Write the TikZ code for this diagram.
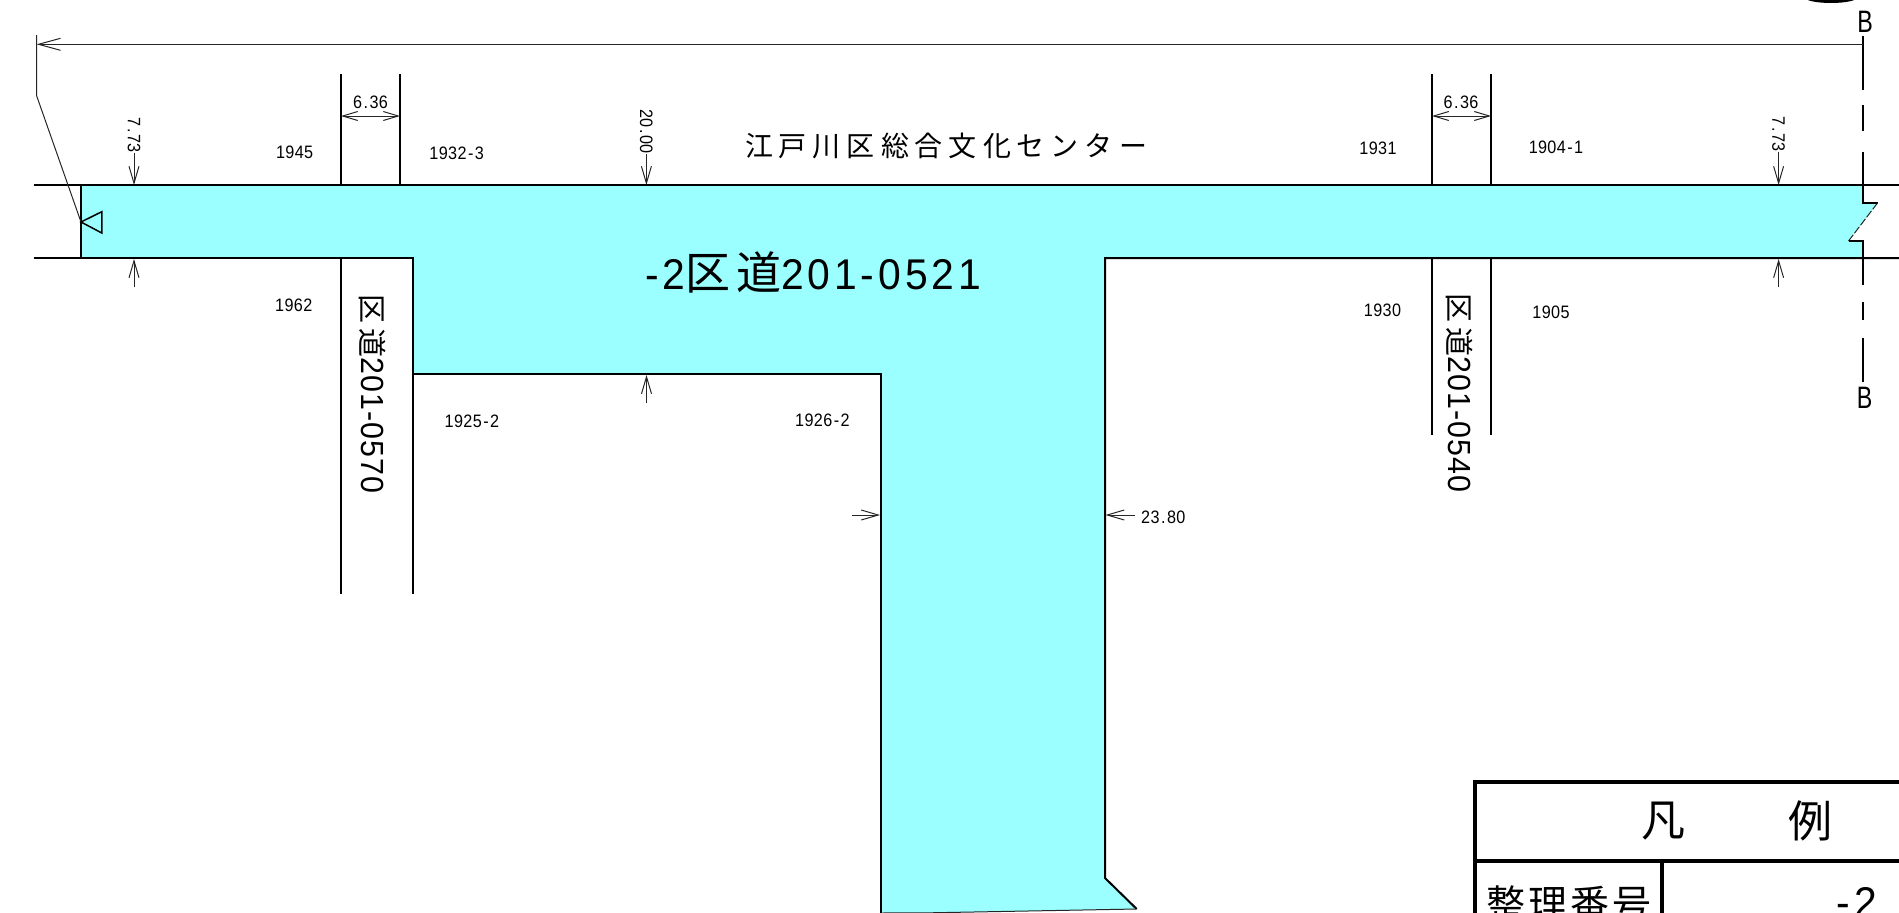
\documentclass[tikz,border=0pt]{standalone}
\usepackage{fontspec}
\setmainfont{Liberation Sans}
\newfontfamily\cjkf{Noto Sans CJK JP}
\newfontfamily\narf[FakeStretch=0.9,LetterSpace=2]{Liberation Sans}
\newfontfamily\narbf[FakeStretch=0.75]{Liberation Sans}
\newfontfamily\narwf[FakeStretch=0.95,LetterSpace=3]{Liberation Sans}
\newfontfamily\narxf[FakeStretch=0.95,LetterSpace=9]{Liberation Sans}
\usetikzlibrary{arrows.meta}
\definecolor{roadfill}{RGB}{156,255,255}
\newcommand{\hy}{\kern1.5pt-\kern1.5pt}
\newcommand{\dt}{\kern1.5pt.\kern1.5pt}
\tikzset{
  heavy/.style={draw=black,line width=2pt},
  thin line/.style={draw=black!85,line width=1pt},
  frame/.style={draw=black,line width=4.4pt},
  dimarrow/.style={thin line,-{Straight Barb[length=17pt,width=10pt]}},
  dimboth/.style={thin line,{Straight Barb[length=15pt,width=9pt]}-{Straight Barb[length=15pt,width=9pt]}},
  lot/.style={inner sep=0pt,font=\fontsize{18}{20}\narf},
  dimtext/.style={inner sep=0pt,font=\fontsize{18}{20}\narf},
  dimside/.style={inner sep=0pt,font=\fontsize{18}{20}\narf,rotate=-90},
  roadv/.style={inner sep=0pt,font=\fontsize{32}{34}\narwf,rotate=-90},
  legend/.style={inner sep=0pt,font=\fontsize{44}{46}\cjkf}
}
\begin{document}
\begin{tikzpicture}[x=1pt,y=-1pt]
\useasboundingbox (0,0) rectangle (1899,913);
\clip (0,0) rectangle (1899,913);
% road surface
\fill[roadfill] (81,185) -- (1863,185) -- (1863,203) -- (1877.5,203) -- (1848.5,241) -- (1863,241) -- (1863,258) -- (1105,258) -- (1105,878) -- (1136.7,909) -- (930,913) -- (881,913) -- (881,374) -- (413,374) -- (413,258) -- (81,258) -- cycle;
% road edges
\draw[heavy] (33.5,185) -- (1899,185);
\draw[heavy] (33.5,258) -- (413,258) -- (413,594);
\draw[heavy] (413,374) -- (881,374) -- (881,913);
\draw[heavy] (1899,258) -- (1105,258) -- (1105,878) -- (1136.7,909);
\draw[thin line] (881,913) -- (930,912.8) -- (1136.7,909);
\draw[heavy] (81,185) -- (81,258);
% side roads
\draw[heavy] (341,74) -- (341,185);
\draw[heavy] (400,74) -- (400,185);
\draw[heavy] (341,258) -- (341,594);
\draw[heavy] (1432,74) -- (1432,185);
\draw[heavy] (1491,74) -- (1491,185);
\draw[heavy] (1432,258) -- (1432,435);
\draw[heavy] (1491,258) -- (1491,435);
% section B line
\draw[heavy] (1863,36) -- (1863,90);
\draw[heavy] (1863,105) -- (1863,131);
\draw[heavy] (1863,152) -- (1863,203) -- (1877.5,203);
\draw[thin line,dashed,dash pattern=on 8pt off 2pt] (1877.5,203) -- (1848.5,241);
\draw[heavy] (1848.5,241) -- (1863,241) -- (1863,285);
\draw[heavy] (1863,302) -- (1863,320);
\draw[heavy] (1863,338) -- (1863,382);
\node[inner sep=0pt,font=\fontsize{31}{32}\narbf] (bt) at (1865,22) {B};
\node[inner sep=0pt,font=\fontsize{31}{32}\narbf] (bb) at (1864.5,398) {B};
\fill (1831,-3) ellipse [x radius=27,y radius=6];
% section arrow
\coordinate (secA) at (36.6,44.3);
\coordinate (secB) at (1863,44.3);
\coordinate (secC) at (36.6,35);
\coordinate (secD) at (36.6,95.7);
\coordinate (secE) at (81,222);
\draw[thin line,-{Straight Barb[length=22pt,width=12pt]}] (secB) -- (secA);
\draw[thin line] (secC) -- (secD) -- (secE);
\draw[draw=black,line width=1.5pt] (secE) -- (101.8,211.7) -- (101.8,233) -- cycle;
% dimensions
\coordinate (dl1) at (341,116); \coordinate (dl2) at (400,116);
\draw[dimboth] (dl1) -- (dl2);
\node[dimtext] (d636a) at (370.5,102) {6\dt 36};
\coordinate (dr1) at (1432,116); \coordinate (dr2) at (1491,116);
\draw[dimboth] (dr1) -- (dr2);
\node[dimtext] (d636b) at (1461,102.7) {6\dt 36};
\node[dimside] (d773a) at (134,135) {7\dt 73};
\coordinate (a1) at (134,185);
\draw[dimarrow] (d773a.east) -- (a1);
\coordinate (a2a) at (134,287); \coordinate (a2b) at (134,259);
\draw[dimarrow] (a2a) -- (a2b);
\node[dimside] (d2000) at (646.4,131.5) {20\dt 00};
\coordinate (a3) at (646.4,185);
\draw[dimarrow] (d2000.east) -- (a3);
\coordinate (a4a) at (646.5,402.7); \coordinate (a4b) at (646.5,375);
\draw[dimarrow] (a4a) -- (a4b);
\node[dimside] (d773b) at (1778.6,134) {7\dt 73};
\coordinate (a5) at (1778.6,185);
\draw[dimarrow] (d773b.east) -- (a5);
\coordinate (a6a) at (1778.6,287); \coordinate (a6b) at (1778.6,259);
\draw[dimarrow] (a6a) -- (a6b);
\coordinate (a7a) at (852,515); \coordinate (a7b) at (880,515);
\draw[dimarrow] (a7a) -- (a7b);
\node[dimtext,anchor=west] (d2380) at (1141,517) {23\dt 80};
\coordinate (a8) at (1105.5,515);
\draw[dimarrow] (d2380.west) ++(-6,-2) -- (a8);
% lot numbers
\node[lot] (l1945) at (294.6,152.7) {1945};
\node[lot] (l1932) at (456.7,153) {1932\hy 3};
\node[lot] (l1962) at (293.8,305.7) {1962};
\node[lot] (l1925) at (472,421.7) {1925\hy 2};
\node[lot] (l1926) at (822.5,420) {1926\hy 2};
\node[lot] (l1931) at (1378,148) {1931};
\node[lot] (l1904) at (1556,147) {1904\hy 1};
\node[lot] (l1930) at (1382.5,310) {1930};
\node[lot] (l1905) at (1551,312) {1905};
% names
\node[inner sep=0pt,font=\fontsize{28}{30}\cjkf] (facility) at (946,146) {江\kern6pt 戸\kern6pt 川\kern6pt 区\kern6pt 総\kern6pt 合\kern6pt 文\kern6pt 化\kern6pt セ\kern6pt ン\kern6pt タ\kern6pt ー};
\node[inner sep=0pt,font=\fontsize{43}{46}\narxf] (title) at (813,272) {-2{\cjkf\fontsize{45}{46}\selectfont 区\kern6pt 道}201-0521};
\node[roadv] (r570) at (372.8,394) {{\cjkf\fontsize{29}{30}\selectfont 区\kern5pt 道}201-0570};
\node[roadv] (r540) at (1459.7,393) {{\cjkf\fontsize{29}{30}\selectfont 区\kern5pt 道}201-0540};
% legend
\draw[frame] (1475,913) -- (1475,781.7) -- (1899,781.7);
\draw[frame] (1475,860.7) -- (1899,860.7);
\draw[frame] (1662,860.7) -- (1662,913);
\node[legend] (lg1) at (1663,821) {凡};
\node[legend] (lg2) at (1810,821) {例};
\node[inner sep=0pt,font=\fontsize{39}{40}\cjkf] (lg3) at (1569,904) {整\kern3pt 理\kern3pt 番\kern3pt 号};
\node[inner sep=0pt,font=\fontsize{43}{46}\narxf] (lg4) at (1857,902) {-2};
\end{tikzpicture}
\end{document}
